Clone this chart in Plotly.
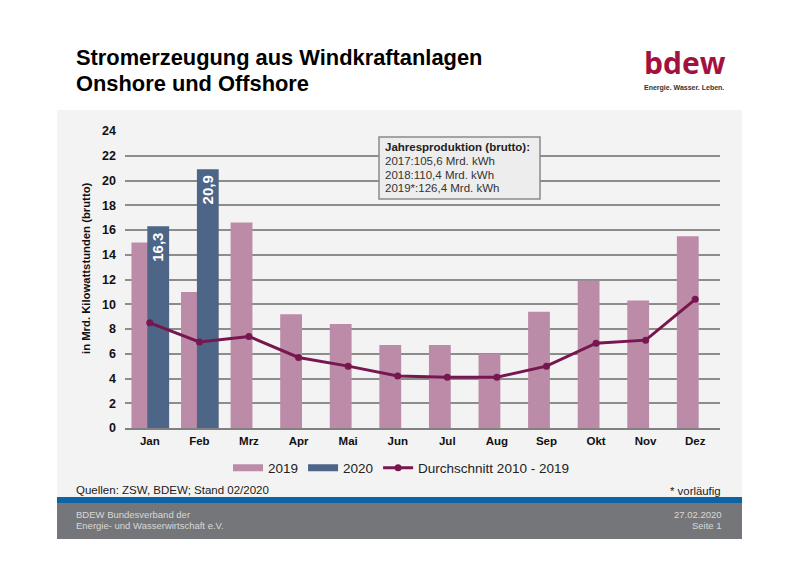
import plotly.graph_objects as go

months = ["Jan","Feb","Mrz","Apr","Mai","Jun","Jul","Aug","Sep","Okt","Nov","Dez"]
values_2019 = [15.0,11.0,16.6,9.2,8.4,6.7,6.7,6.0,9.4,11.9,10.3,15.5]
months_2020 = ["Jan","Feb"]
values_2020 = [16.3,20.9]
labels_2020 = ["16,3","20,9"]
average = [8.5,6.95,7.4,5.7,5.0,4.2,4.1,4.1,5.0,6.85,7.1,10.4]
tick_vals = list(range(0,25,2))

FONT = "Liberation Sans"
C2019, C2020, CAVG = "#BC8BA8", "#4D6587", "#76174F"
W, H = 800, 565
L, R, T, B = 125, 720, 131, 428
def px(x): return (x - L) / (R - L)
def py(y): return (B - y) / (B - T)

fig = go.Figure()
fig.add_bar(name="2019", x=months, y=values_2019, marker_color=C2019,
            width=0.44, offset=-0.37, marker_line_width=0, showlegend=False)
fig.add_bar(name="2020", x=months_2020, y=values_2020, marker_color=C2020,
            width=0.44, offset=-0.05, marker_line_width=0, showlegend=False)
for name, colour in (("2019", C2019), ("2020", C2020)):
    fig.add_scatter(name=name, x=[None], y=[None], mode="lines",
                    line=dict(color=colour, width=7))
fig.add_scatter(name="Durchschnitt 2010 - 2019", x=months, y=average, mode="lines+markers",
                line=dict(color=CAVG, width=3), marker=dict(color=CAVG, size=7))

shapes = [
    dict(type="rect", xref="paper", yref="paper", layer="below", line_width=0, fillcolor=c,
         x0=px(57), x1=px(742), y0=py(b), y1=py(t))
    for c, t, b in [("#F3F3F3",110,497),("#0C64A8",497,503),("#757679",503,539)]
]
shapes.append(dict(type="rect", xref="paper", yref="paper", layer="above",
                   line=dict(color="#8A8A8A", width=1.5), fillcolor="#EDEDED",
                   x0=px(379), x1=px(540), y0=py(199), y1=py(137)))

def note(x, y, text, size, color="#1A1A1A", anchor="left", bold=False, family=FONT):
    return dict(xref="paper", yref="paper", x=px(x), y=py(y), text=f"<b>{text}</b>" if bold else text,
                showarrow=False, xanchor=anchor, yanchor="middle", align=anchor,
                font=dict(family=family, size=size, color=color), borderpad=0, borderwidth=0)

annotations = [
    note(76,57,"Stromerzeugung aus Windkraftanlagen",21.85,"#000000",bold=True),
    note(76,84,"Onshore und Offshore",21.85,"#000000",bold=True),
    note(385,147,"Jahresproduktion (brutto):",11.5,"#222222",bold=True),
    note(385,161,"2017:105,6 Mrd. kWh",11.5,"#333333"),
    note(385,175,"2018:110,4 Mrd. kWh",11.5,"#333333"),
    note(385,188,"2019*:126,4 Mrd. kWh",11.5,"#333333"),
    note(76,490,"Quellen: ZSW, BDEW; Stand 02/2020",11.5),
    note(721,491,"* vorläufig",11.4,anchor="right"),
    note(76,514,"BDEW Bundesverband der",9.5,"#D8D8D8"),
    note(76,525,"Energie- und Wasserwirtschaft e.V.",9.5,"#D8D8D8"),
    note(722,514,"27.02.2020",9.5,"#D8D8D8",anchor="right"),
    note(722,525,"Seite 1",9.5,"#D8D8D8",anchor="right"),
    note(644,63,"<b>bdew</b>",30,"#A3123F",family="Open Sans"),
    note(644,88,"Energie. Wasser. Leben.",7,"#333333",bold=True),
    dict(xref="paper", yref="paper", x=px(86), y=py(268), text="<b>in Mrd. Kilowattstunden (brutto)</b>",
         textangle=-90, showarrow=False, xanchor="center", yanchor="middle",
         font=dict(family=FONT, size=11.3, color="#111111")),
]
for month, value, label in zip(months_2020, values_2020, labels_2020):
    annotations.append(dict(x=month, y=value, text=f"<b>{label}</b>", textangle=-90, showarrow=False,
                            xanchor="center", yanchor="top", xshift=8.2, yshift=-5,
                            font=dict(family=FONT, size=15, color="white"), borderpad=0))

fig.update_layout(
    width=W, height=H, paper_bgcolor="white", plot_bgcolor="rgba(0,0,0,0)",
    margin=dict(l=L, r=W-R, t=T, b=H-B, pad=0),
    barmode="overlay", showlegend=True, shapes=shapes, annotations=annotations,
    font=dict(family=FONT),
    legend=dict(orientation="h", x=px(401), xanchor="center", y=py(468), yanchor="middle",
                bgcolor="rgba(0,0,0,0)", font=dict(family=FONT, size=13.5, color="#222222"),
                itemwidth=30, traceorder="normal"),
    xaxis=dict(categoryorder="array", categoryarray=months, range=[-0.5,11.5], showgrid=False,
               showline=True, linecolor="#808080", linewidth=1.5, ticks="", ticklabelstandoff=1,
               tickfont=dict(family=FONT, size=11.5, color="#111111", weight="bold")),
    yaxis=dict(range=[0,24], tickvals=tick_vals, showgrid=True, gridcolor="#8C8C8C", gridwidth=1.5,
               zeroline=False, showline=False, ticks="", ticklen=0, ticklabelstandoff=8,
               tickfont=dict(family=FONT, size=12.5, color="#111111", weight="bold")),
)
fig.write_html("out.html", config={"displayModeBar": False},
               post_script="document.body.style.margin='0';")
